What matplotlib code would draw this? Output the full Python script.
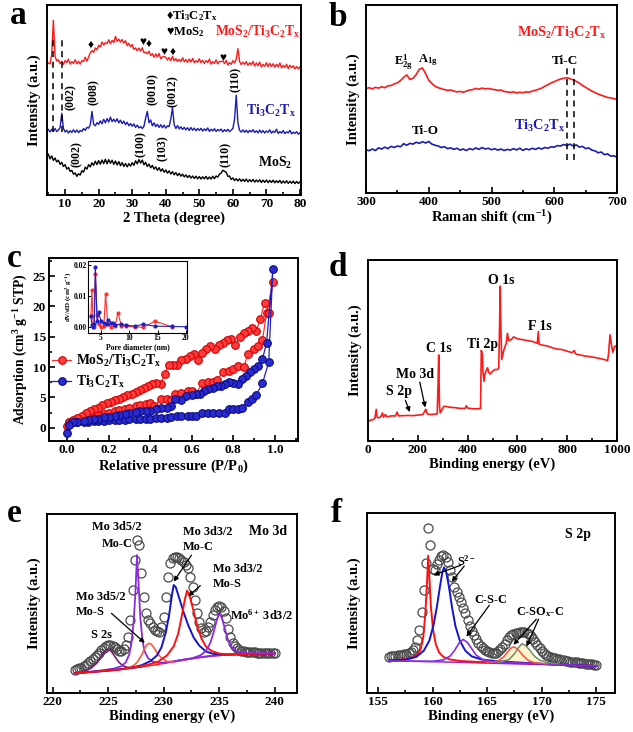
import numpy as np
import matplotlib
matplotlib.use("Agg")
import matplotlib.pyplot as plt
from matplotlib.ticker import MultipleLocator, FormatStrFormatter

# ---------------- data ----------------
# (a) XRD, 2theta grid starts at 5 deg, step 0.5 deg
xrd_start, xrd_step = 5.0, 0.5
xrd_comp = [69.5, 69.0, 74.0, 92.0, 73.0, 70.5, 71.2, 69.1, 70.4, 68.7, 70.8, 69.7, 71.5, 68.9, 70.2, 69.3,
            71.2, 69.1, 70.4, 68.9, 70.8, 70.2, 72.5, 70.4, 72.7, 74.8, 76.0, 75.1, 77.4, 76.4, 78.8, 77.9,
            80.5, 78.9, 80.2, 79.6, 81.7, 79.6, 81.4, 80.2, 83.5, 80.9, 82.0, 80.5, 81.8, 79.9, 81.2, 78.6,
            79.8, 78.0, 79.2, 76.6, 77.4, 75.9, 77.3, 75.7, 77.5, 74.9, 75.2, 74.3, 75.7, 73.4, 74.4, 72.5,
            74.3, 72.6, 74.5, 71.6, 72.7, 72.8, 72.5, 71.0, 72.3, 70.7, 73.0, 70.6, 71.8, 70.3, 71.4, 70.2,
            72.2, 70.1, 71.3, 69.8, 71.6, 70.0, 71.9, 69.6, 70.7, 69.8, 71.7, 69.6, 70.9, 69.2, 70.8, 69.7,
            71.5, 68.9, 70.2, 69.3, 71.1, 69.0, 70.3, 70.2, 70.5, 69.2, 70.9, 68.4, 69.7, 68.8, 70.7, 69.5,
            71.5, 77.0, 70.2, 68.6, 69.9, 68.8, 70.2, 68.2, 69.6, 68.5, 70.3, 67.9, 69.5, 68.1, 69.9, 67.4,
            68.7, 67.8, 69.6, 67.5, 69.3, 67.6, 69.1, 67.2, 68.8, 67.4, 69.5, 66.9, 68.2, 67.1, 68.8, 66.5,
            68.3, 67.0, 68.0, 66.4, 67.6, 66.3, 67.5]
xrd_mxene = [34.5, 33.2, 34.6, 33.5, 35.0, 33.4, 34.2, 35.5, 43.0, 35.0, 33.2, 34.1, 32.6, 33.8, 32.9, 34.3,
             33.0, 34.2, 32.8, 34.0, 33.4, 35.0, 34.0, 35.6, 35.2, 37.0, 44.0, 37.2, 36.4, 38.1, 37.2, 39.0,
             37.5, 39.8, 38.0, 40.2, 38.4, 41.0, 38.6, 39.9, 38.5, 40.1, 38.0, 39.4, 37.6, 38.9, 37.0, 38.3,
             36.5, 37.6, 36.2, 37.4, 35.6, 36.8, 35.3, 36.0, 35.0, 36.2, 40.5, 44.0, 38.0, 39.5, 36.4, 38.0,
             36.0, 37.2, 35.6, 37.0, 35.4, 36.8, 35.2, 36.4, 36.0, 40.0, 46.0, 37.0, 35.0, 36.5, 34.8, 35.9,
             34.5, 35.6, 34.3, 35.4, 34.0, 35.5, 34.1, 35.2, 33.8, 35.0, 34.0, 35.1, 33.6, 34.8, 33.9, 35.3,
             33.5, 34.6, 33.7, 34.9, 33.4, 34.5, 33.8, 34.7, 33.2, 34.4, 33.5, 34.6, 33.3, 34.2, 35.0, 40.0,
             52.5, 38.0, 34.0, 33.1, 34.3, 33.0, 34.1, 32.8, 34.0, 33.2, 34.4, 32.9, 33.8, 32.7, 34.2, 32.8,
             33.9, 32.6, 33.7, 33.0, 34.3, 32.5, 33.6, 32.9, 34.6, 32.4, 33.4, 32.6, 33.9, 32.3, 33.2, 32.7,
             34.0, 32.2, 33.1, 32.4, 33.3, 32.0, 32.8]
xrd_mos2 = [21.5, 19.0, 20.6, 18.2, 19.5, 17.4, 18.3, 16.1, 17.2, 15.0, 16.0, 13.6, 14.5, 12.4, 13.0, 10.9,
            11.6, 9.8, 11.2, 10.5, 12.8, 12.0, 14.7, 13.6, 16.0, 14.8, 17.0, 15.6, 17.8, 16.0, 18.1, 16.2,
            18.4, 16.5, 18.8, 16.4, 18.6, 16.7, 18.3, 16.1, 17.9, 15.8, 17.6, 15.4, 17.1, 15.0, 16.6, 14.8,
            16.5, 15.2, 17.0, 15.6, 18.0, 16.4, 18.6, 16.8, 18.4, 15.9, 17.2, 15.0, 16.3, 14.3, 15.6, 13.6,
            14.8, 13.0, 14.4, 12.5, 13.8, 12.0, 13.2, 11.5, 12.7, 11.0, 12.3, 10.6, 11.8, 10.2, 11.4, 9.9,
            11.0, 9.5, 10.6, 9.2, 10.3, 8.9, 10.0, 8.7, 9.9, 8.5, 9.7, 8.4, 9.6, 8.5, 9.8, 8.3,
            9.5, 8.4, 9.9, 8.6, 10.0, 9.4, 11.0, 11.5, 13.0, 12.5, 12.0, 9.8, 10.0, 8.2, 9.0, 7.6,
            8.6, 7.4, 8.5, 7.2, 8.3, 7.1, 8.4, 6.9, 8.1, 7.0, 8.2, 6.8, 7.9, 6.9, 8.0, 6.6,
            7.8, 6.7, 7.9, 6.5, 7.7, 6.6, 7.8, 6.4, 7.5, 6.5, 7.7, 6.2, 7.4, 6.3, 7.5, 6.1,
            7.2, 6.2, 7.3, 6.0, 7.1, 6.1, 6.9]
xrd_dash = [6.3, 9.0]
xrd_hkl_mxene = [("(002)", 11.7, 51.5), ("(008)", 18.4, 54.0), ("(0010)", 36.0, 55.5),
                 ("(0012)", 42.1, 54.5), ("(110)", 61.0, 61.0)]
xrd_hkl_mos2 = [("(002)", 13.6, 21.5), ("(100)", 32.6, 27.0), ("(103)", 39.1, 24.5), ("(110)", 57.8, 21.5)]
xrd_marks = [("\u2666", 17.7, 79.0), ("\u2665", 33.1, 80.5), ("\u2666", 34.8, 79.5),
             ("\u2665", 39.5, 75.5), ("\u2666", 42.0, 75.5), ("\u2665", 56.9, 72.0)]

# (b) Raman, grid 300..700 step 5
raman_start, raman_step = 300, 5
raman_comp = [55.5, 56.0, 55.4, 56.2, 55.8, 56.5, 56.0, 57.0, 57.2, 58.0, 58.6, 59.8, 61.5, 62.8, 60.4, 61.0,
              63.0, 65.8, 66.5, 63.5, 60.0, 58.2, 56.8, 56.0, 55.5, 55.0, 54.6, 54.8, 54.2, 53.8, 54.0, 53.6,
              54.2, 54.8, 55.0, 55.6, 55.2, 55.8, 55.4, 55.6, 55.2, 55.0, 54.6, 54.8, 54.0, 53.8, 53.5, 53.8,
              53.2, 53.6, 53.3, 53.8, 53.6, 54.2, 54.6, 55.2, 55.8, 56.8, 57.6, 58.6, 59.2, 60.0, 60.6, 61.0,
              61.4, 60.8, 60.2, 59.4, 58.4, 57.2, 56.2, 55.2, 54.2, 53.4, 52.6, 52.0, 51.4, 50.8, 50.6, 50.2, 49.8]
raman_mxene = [23.0, 22.5, 23.4, 22.6, 24.0, 23.4, 24.4, 23.6, 24.8, 24.2, 25.0, 24.6, 26.2, 25.4, 26.4, 26.0,
               27.0, 26.4, 27.3, 26.6, 27.4, 26.0, 25.4, 25.0, 24.2, 24.6, 23.6, 24.0, 23.2, 23.8, 22.8, 23.4,
               22.6, 23.6, 23.0, 24.0, 23.2, 24.2, 23.4, 23.8, 23.0, 23.6, 22.8, 23.4, 22.6, 23.2, 22.8, 23.6,
               22.9, 23.8, 22.7, 23.5, 23.0, 23.8, 23.2, 24.0, 23.4, 24.2, 23.8, 24.6, 24.4, 25.2, 25.0, 25.8,
               25.2, 26.0, 25.0, 25.6, 24.4, 24.8, 23.6, 24.0, 22.8, 22.4, 21.4, 21.8, 20.4, 20.8, 19.6, 19.8, 19.0]
raman_dash = [620, 631]

# (c) N2 isotherms: adsorption branch then desorption branch
comp_ads_p = [0.0, 0.01, 0.03, 0.05, 0.08, 0.1, 0.13, 0.15, 0.18, 0.2, 0.23, 0.25, 0.28, 0.3, 0.33, 0.35,
              0.38, 0.4, 0.42, 0.45, 0.48, 0.5, 0.52, 0.55, 0.58, 0.6, 0.62, 0.65, 0.68, 0.7, 0.72, 0.75,
              0.78, 0.8, 0.82, 0.85, 0.87, 0.9, 0.92, 0.94, 0.96, 0.99]
comp_ads_v = [0.3, 0.9, 1.1, 1.3, 1.5, 1.7, 1.9, 2.1, 2.3, 2.5, 2.7, 2.9, 3.1, 3.3, 3.6, 3.8,
              3.9, 4.0, 3.6, 4.7, 4.7, 4.5, 5.6, 5.8, 6.0, 6.1, 5.6, 7.3, 7.5, 7.6, 7.8, 9.2,
              9.4, 9.6, 10.2, 10.0, 12.2, 13.0, 13.5, 14.4, 19.0, 24.0]
comp_des_p = [0.97, 0.95, 0.93, 0.91, 0.89, 0.87, 0.85, 0.83, 0.81, 0.79, 0.77, 0.75, 0.73, 0.71, 0.69, 0.67,
              0.65, 0.63, 0.61, 0.59, 0.57, 0.55, 0.53, 0.51, 0.49, 0.47, 0.45, 0.43, 0.41, 0.39, 0.37, 0.35,
              0.33, 0.31, 0.29, 0.27, 0.25, 0.23, 0.21, 0.19, 0.17, 0.15, 0.13, 0.11, 0.09, 0.07, 0.05, 0.03, 0.01]
comp_des_v = [19.0, 20.6, 18.0, 16.0, 16.5, 16.0, 15.6, 15.0, 13.7, 14.7, 14.4, 14.0, 13.6, 13.0, 13.4, 12.9,
              12.4, 11.2, 12.1, 11.9, 11.4, 11.2, 10.4, 10.4, 10.4, 8.9, 7.2, 7.4, 7.2, 6.8, 6.5, 6.2,
              5.9, 5.6, 5.4, 5.1, 4.8, 4.5, 4.2, 4.0, 3.7, 3.3, 3.0, 2.7, 2.4, 2.0, 1.6, 1.3, 1.0]
mx_ads_p = [0.0, 0.02, 0.05, 0.08, 0.1, 0.13, 0.15, 0.18, 0.2, 0.23, 0.25, 0.28, 0.3, 0.33, 0.35, 0.38,
            0.4, 0.43, 0.45, 0.48, 0.5, 0.53, 0.55, 0.58, 0.6, 0.62, 0.65, 0.68, 0.7, 0.73, 0.76, 0.78,
            0.8, 0.82, 0.84, 0.87, 0.89, 0.91, 0.94, 0.97, 0.99]
mx_ads_v = [-0.8, 0.8, 0.9, 1.0, 1.0, 1.1, 1.1, 1.1, 1.2, 1.2, 1.3, 1.3, 1.4, 1.4, 1.4, 1.4,
            1.5, 1.6, 1.6, 1.6, 1.7, 1.9, 1.9, 1.9, 1.9, 2.0, 2.4, 2.4, 2.4, 2.4, 2.5, 3.0,
            3.1, 3.1, 3.2, 4.3, 4.8, 5.4, 7.3, 10.8, 26.2]
mx_des_p = [0.96, 0.94, 0.92, 0.9, 0.88, 0.86, 0.84, 0.82, 0.8, 0.78, 0.76, 0.74, 0.72, 0.7, 0.68, 0.66,
            0.64, 0.62, 0.6, 0.57, 0.55, 0.52, 0.5, 0.48, 0.45, 0.43, 0.4, 0.38, 0.35, 0.33, 0.3, 0.28,
            0.25, 0.23, 0.2, 0.18, 0.15, 0.13, 0.1, 0.08, 0.05, 0.03, 0.01]
mx_des_v = [14.0, 11.3, 10.1, 9.6, 9.2, 8.6, 8.0, 7.2, 7.3, 7.5, 7.2, 6.8, 6.8, 6.6, 6.3, 6.0,
            5.5, 5.6, 5.4, 5.2, 4.6, 4.8, 3.6, 3.3, 3.2, 3.0, 2.7, 2.8, 2.7, 2.6, 2.4, 2.3,
            2.1, 2.0, 1.8, 1.7, 1.5, 1.4, 1.2, 1.1, 1.0, 0.9, 0.5]
# (c) inset, pore size distribution
psd_comp_d = [3.2, 3.4, 3.6, 3.8, 4.0, 4.3, 4.6, 5.0, 5.5, 5.8, 6.2, 6.8, 7.5, 8.0, 8.6, 9.5, 11.0, 12.5, 14.5, 17.5]
psd_comp_v = [0.0035, 0.012, 0.001, 0.0, 0.017, 0.004, 0.001, 0.0, 0.0003, 0.0108, 0.001, 0.0, 0.0005, 0.0047,
              0.0005, 0.0003, 0.0002, 0.0, 0.002, 0.0002]
psd_mx_d = [3.2, 3.4, 3.6, 3.8, 4.0, 4.3, 4.6, 5.0, 5.5, 6.0, 6.2, 6.8, 7.2, 7.5, 8.5, 9.5, 11.0, 12.5, 14.5, 17.5, 20.0]
psd_mx_v = [0.0035, 0.0008, 0.0002, 0.001, 0.0195, 0.002, 0.0048, 0.002, 0.0015, 0.0012, 0.0025, 0.0015, 0.0015,
            0.0008, 0.001, 0.0007, 0.0004, 0.001, 0.0004, 0.0003, 0.0002]

# (d) XPS survey
survey_be = [0, 5, 10, 20, 28, 33, 37, 45, 52, 58, 62, 70, 75, 85, 95, 110, 117, 122, 140, 160, 180, 200, 220,
             228, 232, 238, 250, 265, 278, 281, 284, 287, 290, 296, 305, 315, 330, 350, 370, 390, 395, 400, 420,
             440, 452, 455, 459, 462, 466, 470, 475, 480, 485, 490, 500, 510, 520, 525, 528, 531, 534, 537, 545,
             555, 560, 565, 575, 585, 600, 620, 640, 660, 680, 684, 687, 700, 720, 740, 760, 780, 800, 820, 828,
             835, 850, 870, 890, 910, 930, 950, 962, 966, 972, 978, 983, 990, 1000]
survey_i = [10.5, 11.2, 11.5, 11.8, 12.5, 17.5, 13.0, 12.8, 13.6, 15.5, 13.2, 14.6, 13.4, 13.6, 13.9, 13.8, 16.0,
            13.9, 14.0, 14.1, 14.0, 14.3, 14.6, 16.5, 17.5, 15.0, 14.6, 14.8, 15.0, 30.0, 47.5, 20.0, 15.5, 17.0,
            19.2, 19.0, 18.6, 18.4, 18.0, 18.0, 19.5, 18.2, 17.8, 17.8, 18.0, 50.0, 48.0, 38.0, 33.0, 37.0, 39.0,
            40.5, 38.0, 37.0, 38.5, 39.5, 39.5, 40.5, 60.0, 85.5, 60.0, 45.0, 50.0, 54.0, 59.5, 55.5, 56.0, 57.5,
            56.5, 56.0, 55.5, 55.0, 54.0, 60.5, 53.5, 53.0, 52.5, 51.5, 50.8, 50.5, 49.6, 48.8, 50.0, 48.0, 47.6,
            47.0, 46.6, 46.2, 45.6, 45.0, 44.4, 48.0, 58.7, 53.0, 49.0, 52.0, 53.0]

# (e) Mo 3d: measured points (grid 222..240, step 0.2) and fitted components
mo_start, mo_step = 222.0, 0.2
mo_raw = [12.8, 13.2, 13.7, 14.2, 14.9, 15.6, 16.6, 17.7, 18.9, 20.0, 21.2, 22.6, 24.1, 25.4, 26.3, 26.8,
          26.6, 26.1, 25.5, 24.4, 23.6, 23.4, 24.4, 27.0, 31.5, 40.8, 57.6, 74.3, 85.5, 82.7, 66.9, 53.8,
          44.5, 41.0, 38.9, 36.8, 35.2, 34.6, 34.3, 37.0, 42.6, 53.8, 65.0, 72.4, 75.2, 76.2, 76.0, 75.2,
          74.3, 73.3, 71.5, 69.6, 65.0, 59.4, 51.9, 44.5, 39.5, 36.2, 34.3, 34.6, 36.6, 39.8, 43.5, 46.6,
          48.2, 48.6, 48.0, 46.0, 41.7, 36.0, 31.2, 27.7, 26.0, 24.9, 24.2, 23.6, 23.3, 23.1, 22.9, 22.8,
          22.7, 22.7, 22.6, 22.6, 22.5, 22.5, 22.5, 22.4, 22.4, 22.3, 22.2]
mo_bg_x = [222, 224, 226, 227.5, 229, 231, 233, 235, 237, 240]
mo_bg_y = [11.0, 11.9, 13.1, 14.2, 15.5, 17.5, 19.6, 21.0, 21.6, 22.1]
s2s_x = [222.0, 222.5, 223.0, 223.5, 224.0, 224.3, 224.6, 224.8, 225.0, 225.2, 225.4, 225.7, 226.0, 226.4, 226.8, 227.2, 228.0]
s2s_y = [11.0, 11.6, 12.5, 14.0, 16.8, 19.5, 22.5, 23.9, 24.4, 23.8, 22.3, 19.5, 17.0, 15.0, 14.2, 14.0, 14.6]
moc52_x = [222, 224, 225.5, 226.2, 226.6, 226.9, 227.1, 227.3, 227.45, 227.6, 227.75, 227.9, 228.1, 228.3, 228.6,
           229.0, 229.6, 230.5, 232, 234, 236, 240]
moc52_y = [11.2, 12.3, 13.6, 15.0, 17.2, 21.5, 28, 40, 55, 77.1, 60, 42, 29, 23, 19.5, 17.5, 16.8, 17.3, 18.9,
           20.6, 21.5, 22.1]
mos52_x = [225.5, 226.5, 227.2, 227.6, 228.0, 228.3, 228.5, 228.7, 228.9, 229.1, 229.4, 229.8, 230.3, 231.0, 232]
mos52_y = [12.8, 13.6, 15.0, 17.0, 21.0, 25.0, 27.0, 27.8, 27.2, 25.5, 22.5, 19.5, 17.6, 17.6, 18.6]
moc32_x = [222, 225, 227, 228, 228.8, 229.4, 229.8, 230.2, 230.5, 230.75, 230.9, 231.1, 231.4, 231.8, 232.2,
           232.7, 233.2, 233.8, 234.5, 236, 240]
moc32_y = [11.0, 12.5, 14.0, 15.5, 17.8, 21.0, 25.5, 34, 44, 55, 60.3, 59, 53, 45, 38, 31, 26.5, 23.2, 21.8,
           21.5, 22.1]
mos32_x = [222, 226, 228.5, 229.5, 230.3, 230.9, 231.3, 231.6, 231.9, 232.1, 232.3, 232.6, 233.0, 233.4, 233.8,
           234.3, 235, 236, 240]
mos32_y = [11, 13, 15.6, 17.5, 21, 26, 33, 42, 52, 57.2, 55, 48, 38, 30.5, 26, 23.5, 22, 21.6, 22.1]
mo6_x = [231, 232.5, 233.3, 233.8, 234.2, 234.5, 234.75, 235.0, 235.25, 235.5, 235.8, 236.2, 236.7, 237.5, 240]
mo6_y = [17.8, 19.3, 21.0, 23.5, 28, 34, 40, 44.5, 42, 36, 29.5, 25.0, 23.0, 22.3, 22.2]

# (f) S 2p: measured points (grid 156..175, step 0.2) and fitted components
s_start, s_step = 156.0, 0.2
s_raw = [20.2, 20.4, 20.5, 20.7, 20.9, 21.1, 21.3, 21.6, 21.9, 22.2, 22.8, 24.0, 25.7, 29.5, 35.0, 45.0,
         57.0, 72.0, 91.5, 82.0, 69.0, 68.5, 71.5, 74.0, 76.0, 76.7, 75.5, 72.9, 68.6, 64.2, 59.1, 56.2,
         53.5, 50.4, 47.4, 44.3, 40.6, 37.3, 34.5, 32.0, 29.8, 27.6, 26.2, 25.0, 23.9, 23.2, 22.7, 22.3,
         22.1, 22.5, 23.4, 24.3, 25.6, 27.4, 29.4, 31.0, 32.0, 32.7, 33.1, 33.5, 33.8, 34.0, 34.1, 33.6,
         32.7, 31.6, 30.2, 28.4, 26.6, 24.8, 23.2, 22.1, 21.3, 20.7, 20.1, 19.6, 19.3, 19.0, 18.7, 18.5,
         18.2, 18.0, 17.8, 17.4, 17.3, 17.1, 17.0, 16.8, 16.6, 16.5, 16.3, 16.1, 16.0, 15.9, 15.7, 15.6]
s_bg_x = [156, 160, 165, 170, 175]
s_bg_y = [17.9, 17.4, 16.6, 15.8, 14.9]
s2a_x = [156, 157, 158, 158.5, 158.9, 159.15, 159.35, 159.5, 159.6, 159.7, 159.85, 160.05, 160.3, 160.6, 161.0,
         161.6, 162.5, 164, 168, 175]
s2a_y = [18.0, 18.4, 19.3, 20.8, 24, 31, 45, 62, 76.3, 65, 48, 35, 27, 22.5, 20.0, 18.6, 17.8, 17.3, 16.6, 15.0]
s2b_x = [156, 157.5, 158.5, 159.2, 159.7, 160.1, 160.4, 160.7, 160.9, 161.05, 161.25, 161.5, 161.8, 162.1, 162.5,
         163.0, 163.6, 164.5, 166, 170, 175]
s2b_y = [18.0, 18.5, 20.0, 23.5, 29, 38, 48, 60, 67, 69.8, 67, 59, 47, 37, 29, 23.5, 20.3, 18.6, 17.6, 16.2, 15.0]
csc_x = [156, 160, 161, 161.6, 162.0, 162.4, 162.8, 163.2, 163.6, 164.0, 164.6, 165.5, 170, 175]
csc_y = [17.8, 17.6, 18.4, 20.5, 23.5, 27.5, 29.8, 28.0, 24.5, 21.0, 18.6, 17.3, 16.2, 15.0]
csox1_x = [165, 166, 166.5, 166.9, 167.2, 167.4, 167.6, 167.9, 168.3, 168.8, 169.5, 170.5]
csox1_y = [16.8, 17.8, 20, 23, 25, 25.6, 25.2, 23.6, 20.6, 17.9, 16.6, 16.2]
csox2_x = [166, 167, 167.5, 167.9, 168.2, 168.5, 168.9, 169.3, 169.8, 170.5, 171.5]
csox2_y = [16.9, 18.6, 21.8, 25.5, 27.4, 26.5, 23.8, 20.6, 18.3, 16.9, 16.2]

# ---------------- style ----------------
RED = "#ff1a1a"
BLUE = "#1a1ab8"
PURPLE = "#8a2be2"
plt.rcParams.update({
    "font.family": ["Liberation Serif", "DejaVu Serif"],
    "font.weight": "bold",
    "axes.labelweight": "bold",
    "mathtext.fontset": "custom",
    "mathtext.rm": "Liberation Serif:bold",
    "mathtext.it": "Liberation Serif:italic:bold",
    "mathtext.bf": "Liberation Serif:bold",
    "axes.linewidth": 1.4,
    "axes.labelsize": 10.5,
    "xtick.labelsize": 9.5,
    "ytick.labelsize": 9.5,
})
W, H = 633, 732
MX = "Ti$_3$C$_2$T$_\\mathrm{x}$"
COMP = "MoS$_2$/" + MX


def px_axes(l, t, r, b):
    return fig.add_axes([l / W, 1 - b / H, (r - l) / W, (b - t) / H])


def frame(ax, xmaj, xmin, ymaj=None, ymin=None):
    ax.xaxis.set_major_locator(MultipleLocator(xmaj))
    ax.xaxis.set_minor_locator(MultipleLocator(xmin))
    if ymaj is None:
        ax.set_yticks([])
    else:
        ax.yaxis.set_major_locator(MultipleLocator(ymaj))
        ax.yaxis.set_minor_locator(MultipleLocator(ymin))
    ax.tick_params(which="both", direction="in", width=1.2, pad=2)
    ax.tick_params(which="major", length=4)
    ax.tick_params(which="minor", length=2.2)
    ax.xaxis.labelpad = 1


def letter(x, y, s):
    fig.text(x / W, 1 - y / H, s, fontsize=24, fontweight="bold", ha="center", va="center")


def arrow(ax, start, end):
    ax.annotate("", xy=end, xytext=start,
                arrowprops=dict(arrowstyle="-|>", color="k", lw=0.9, mutation_scale=7, shrinkA=0, shrinkB=0))


fig = plt.figure(figsize=(W / 100, H / 100), dpi=100)

# ---------------- (a) XRD ----------------
ax = px_axes(47, 5, 301, 195)
xx = xrd_start + xrd_step * np.arange(len(xrd_comp))
ax.plot(xx, xrd_comp, color=RED, lw=1.0)
xx = xrd_start + xrd_step * np.arange(len(xrd_mxene))
ax.plot(xx, xrd_mxene, color=BLUE, lw=1.0)
xx = xrd_start + xrd_step * np.arange(len(xrd_mos2))
ax.plot(xx, xrd_mos2, color="k", lw=1.0)
for xd in xrd_dash:
    ax.plot([xd, xd], [33, 82], color="k", lw=1.1, ls=(0, (4, 3)))
for lab, xp, yp in xrd_hkl_mxene + xrd_hkl_mos2:
    ax.text(xp, yp, lab, rotation=90, ha="center", va="center", fontsize=8.5)
for m, xp, yp in xrd_marks:
    ax.text(xp, yp, m, ha="center", va="center", fontsize=8.5)
ax.text(40.0, 94.5, "\u2666" + MX, fontsize=9, ha="left", va="center")
ax.text(40.0, 85.5, "\u2665MoS$_2$", fontsize=9, ha="left", va="center")
ax.text(67.3, 86.0, COMP, color=RED, fontsize=9.8, ha="center", va="center")
ax.text(71.3, 44.5, MX, color=BLUE, fontsize=10, ha="center", va="center")
ax.text(72.5, 17.0, "MoS$_2$", color="k", fontsize=10, ha="center", va="center")
ax.set_xlim(4.6, 80.3)
ax.set_ylim(0, 100)
frame(ax, 10, 5)
ax.set_xlabel("2 Theta (degree)")
ax.set_ylabel("Intensity (a.u.)")
letter(18, 16, "a")

# ---------------- (b) Raman ----------------
ax = px_axes(366, 5, 617, 193)
xx = raman_start + raman_step * np.arange(len(raman_comp))
ax.plot(xx, raman_comp, color=RED, lw=1.2)
xx = raman_start + raman_step * np.arange(len(raman_mxene))
ax.plot(xx, raman_mxene, color=BLUE, lw=1.2)
for xd in raman_dash:
    ax.plot([xd, xd], [17.5, 68], color="k", lw=1.1, ls=(0, (4, 3)))
ax.text(612, 85.0, COMP, color=RED, fontsize=10.3, ha="center", va="center")
ax.text(577, 35.5, MX, color=BLUE, fontsize=10.3, ha="center", va="center")
ax.text(360, 69.5, "E$^{\\mathrm{1}}_{\\mathrm{2g}}$", fontsize=9, ha="center", va="center")
ax.text(398, 70.5, "A$_{\\mathrm{1g}}$", fontsize=9, ha="center", va="center")
ax.text(617, 70.0, "Ti-C", fontsize=9.5, ha="center", va="center")
ax.text(395, 33.0, "Ti-O", fontsize=9.5, ha="center", va="center")
ax.set_xlim(300, 700)
ax.set_ylim(0, 100)
frame(ax, 100, 50)
ax.set_xlabel("Raman shift (cm$^{-1}$)")
ax.set_ylabel("Intensity (a.u.)")
letter(338, 17, "b")

# ---------------- (c) BET ----------------
ax = px_axes(49, 258, 298, 441)
ax.plot(comp_ads_p + comp_des_p, comp_ads_v + comp_des_v, "-o", color="#ff3030", lw=0.9, ms=5.5,
        mfc="#ff3b3b", mec="#d40000", mew=0.8, label=COMP)
ax.plot(mx_ads_p + mx_des_p, mx_ads_v + mx_des_v, "-o", color="#2020c0", lw=0.9, ms=5.5,
        mfc="#2a2ad2", mec="#0c0c80", mew=0.8, label=MX)
ax.set_xlim(-0.087, 1.111)
ax.set_ylim(-2.2, 28)
frame(ax, 0.2, 0.1, 5, 2.5)
ax.xaxis.set_major_formatter(FormatStrFormatter("%.1f"))
ax.set_xlabel("Relative pressure (P/P$_0$)")
ax.set_ylabel("Adsorption (cm$^3$ g$^{-1}$ STP)", fontsize=9.8, labelpad=2)
ax.legend(loc="upper left", bbox_to_anchor=(0.0, 0.5), frameon=False, fontsize=9.8, handlelength=1.4,
          handletextpad=0.3, labelspacing=0.35, borderaxespad=0.05, borderpad=0.2)
letter(14, 258, "c")

ins = px_axes(88, 261, 187, 333)
ins.plot(psd_comp_d, psd_comp_v, "-o", color="#ff3030", lw=0.8, ms=2)
ins.plot(psd_mx_d, psd_mx_v, "-o", color="#2020c0", lw=0.8, ms=2)
ins.set_xlim(2.7, 20.2)
ins.set_ylim(-0.0018, 0.0213)
ins.set_xticks([5, 10, 15, 20])
ins.set_yticks([0.0, 0.01, 0.02])
ins.yaxis.set_major_formatter(FormatStrFormatter("%.2f"))
for s in ins.spines.values():
    s.set_linewidth(0.8)
ins.tick_params(direction="in", length=2, width=0.7, labelsize=5.5, pad=1)
ins.set_xlabel("Pore diameter (nm)", fontsize=5.5, labelpad=0.5)
ins.set_ylabel("dV/dD (cm$^3$ g$^{-1}$)", fontsize=5, labelpad=0.5)

# ---------------- (d) XPS survey ----------------
ax = px_axes(368, 260, 617, 441)
ax.plot(survey_be, survey_i, color=RED, lw=1.2)
ax.set_xlim(0, 1000)
ax.set_ylim(0, 100)
frame(ax, 200, 100)
ax.set_xlabel("Binding energy (eV)")
ax.set_ylabel("Intensity (a.u.)")
ax.text(535, 88.5, "O 1s", fontsize=10, ha="center", va="center")
ax.text(690, 63.5, "F 1s", fontsize=10, ha="center", va="center")
ax.text(284, 51.0, "C 1s", fontsize=10, ha="center", va="center")
ax.text(460, 53.5, "Ti 2p", fontsize=10, ha="center", va="center")
ax.text(188, 36.5, "Mo 3d", fontsize=10, ha="center", va="center")
ax.text(123, 27.5, "S 2p", fontsize=10, ha="center", va="center")
arrow(ax, (208, 32.5), (230, 18.5))
arrow(ax, (150, 22.5), (168, 16.0))
letter(338, 267, "d")

# ---------------- (e) Mo 3d ----------------
ax = px_axes(47, 514, 297, 693)
xx = mo_start + mo_step * np.arange(len(mo_raw))
ax.plot(xx, mo_raw, "o", mfc="none", mec="#4a4a4a", ms=6.5, mew=0.9, zorder=1)
ax.plot(mo_bg_x, mo_bg_y, color=RED, lw=1.1, zorder=2)
ax.plot(s2s_x, s2s_y, color="#7a1f6e", lw=1.2, zorder=3)
ax.plot(moc52_x, moc52_y, color=PURPLE, lw=1.3, zorder=3)
ax.plot(mos52_x, mos52_y, color="#ff5a3c", lw=1.2, zorder=3)
ax.plot(moc32_x, moc32_y, color="#1414d0", lw=1.4, zorder=3)
ax.plot(mos32_x, mos32_y, color="#ff1010", lw=1.4, zorder=3)
ax.plot(mo6_x, mo6_y, color=PURPLE, lw=1.3, zorder=3)
ax.set_xlim(219.5, 242)
ax.set_ylim(0, 100)
frame(ax, 5, 2.5)
ax.set_xlabel("Binding energy (eV)")
ax.set_ylabel("Intensity (a.u.)")
fs = 8.8
ax.text(225.8, 93.0, "Mo 3d5/2", fontsize=fs, ha="center", va="center")
ax.text(225.8, 83.5, "Mo-C", fontsize=fs, ha="center", va="center")
ax.text(231.7, 90.0, "Mo 3d3/2", fontsize=fs, ha="left", va="center")
ax.text(231.7, 81.5, "Mo-C", fontsize=fs, ha="left", va="center")
ax.text(234.4, 69.3, "Mo 3d3/2", fontsize=fs, ha="left", va="center")
ax.text(234.4, 60.8, "Mo-S", fontsize=fs, ha="left", va="center")
ax.text(222.1, 53.8, "Mo 3d5/2", fontsize=fs, ha="left", va="center")
ax.text(222.1, 45.4, "Mo-S", fontsize=fs, ha="left", va="center")
ax.text(224.4, 32.4, "S 2s", fontsize=fs, ha="center", va="center")
ax.text(239.4, 90.0, "Mo 3d", fontsize=10, ha="center", va="center")
ax.text(236.0, 43.6, "Mo$^{6+}$ 3d3/2", fontsize=fs, ha="left", va="center")
arrow(ax, (232.5, 77.0), (230.9, 62.2))
arrow(ax, (233.3, 60.0), (232.2, 54.0))
arrow(ax, (225.3, 44.5), (228.3, 28.0))
letter(14, 513, "e")

# ---------------- (f) S 2p ----------------
ax = px_axes(367, 513, 615, 693)
xx = s_start + s_step * np.arange(len(s_raw))
ax.fill(csox1_x, csox1_y, color="#fff3cc", zorder=0)
ax.fill(csox2_x, csox2_y, color="#fff3cc", zorder=0)
ax.plot(xx, s_raw, "o", mfc="none", mec="#4a4a4a", ms=6.5, mew=0.9, zorder=1)
ax.plot(s_bg_x, s_bg_y, color=PURPLE, lw=1.1, zorder=2)
ax.plot(s2a_x, s2a_y, color="#ff1010", lw=1.4, zorder=3)
ax.plot(s2b_x, s2b_y, color="#1414d0", lw=1.4, zorder=3)
ax.plot(csc_x, csc_y, color=PURPLE, lw=1.2, zorder=3)
ax.plot(csox1_x, csox1_y, color="#ff4d3a", lw=1.1, zorder=3)
ax.plot(csox2_x, csox2_y, color="#6b8e6b", lw=1.1, zorder=3)
ax.set_xlim(154.0, 176.7)
ax.set_ylim(0, 100)
frame(ax, 5, 2.5)
ax.set_xlabel("Binding energy (eV)")
ax.set_ylabel("Intensity (a.u.)")
ax.text(173.3, 88.0, "S 2p", fontsize=10, ha="center", va="center")
ax.text(163.1, 73.0, "S$^{2-}$", fontsize=fs, ha="center", va="center")
ax.text(165.3, 51.7, "C-S-C", fontsize=fs, ha="center", va="center")
ax.text(169.8, 45.2, "C-SO$_\\mathrm{x}$-C", fontsize=fs, ha="center", va="center")
arrow(ax, (162.6, 71.0), (160.1, 65.5))
arrow(ax, (162.9, 70.5), (161.75, 61.8))
arrow(ax, (165.2, 48.8), (163.1, 31.3))
arrow(ax, (169.5, 41.0), (167.4, 26.8))
arrow(ax, (169.7, 41.0), (168.6, 25.8))
letter(336, 513, "f")

fig.savefig("out.png", dpi=100)
